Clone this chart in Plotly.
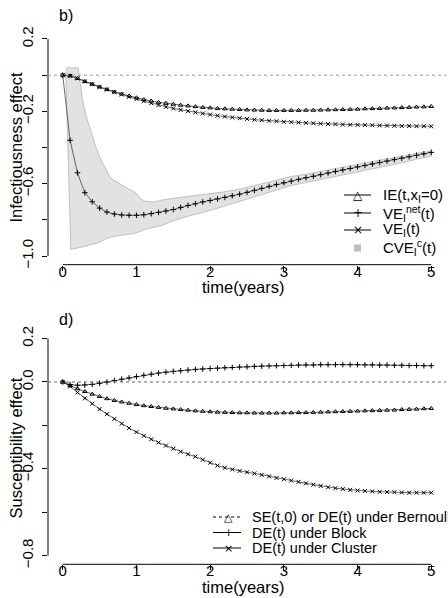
import plotly.graph_objects as go

# ---------------- data ----------------
t = [0.0, 0.1, 0.2, 0.3, 0.4, 0.5, 0.6, 0.7, 0.8, 0.9,
     1.0, 1.1, 1.2, 1.3, 1.4, 1.5, 1.6, 1.7, 1.8, 1.9,
     2.0, 2.1, 2.2, 2.3, 2.4, 2.5, 2.6, 2.7, 2.8, 2.9,
     3.0, 3.1, 3.2, 3.3, 3.4, 3.5, 3.6, 3.7, 3.8, 3.9,
     4.0, 4.1, 4.2, 4.3, 4.4, 4.5, 4.6, 4.7, 4.8, 4.9, 5.0]

ie = [0.0, -0.004, -0.018, -0.035, -0.05, -0.065, -0.079, -0.093, -0.104, -0.115,
      -0.125, -0.135, -0.143, -0.150, -0.156, -0.161, -0.166, -0.170, -0.174, -0.178,
      -0.181, -0.184, -0.186, -0.188, -0.190, -0.192, -0.193, -0.194, -0.195, -0.195,
      -0.195, -0.195, -0.195, -0.194, -0.194, -0.193, -0.192, -0.191, -0.190, -0.189,
      -0.188, -0.186, -0.185, -0.184, -0.182, -0.181, -0.179, -0.178, -0.176, -0.175, -0.173]

ve_net = [0.0, -0.36, -0.54, -0.65, -0.70, -0.735, -0.757, -0.768, -0.773, -0.775,
          -0.775, -0.772, -0.766, -0.759, -0.751, -0.743, -0.731, -0.720, -0.711, -0.701,
          -0.693, -0.684, -0.676, -0.667, -0.658, -0.648, -0.637, -0.626, -0.615, -0.604,
          -0.595, -0.586, -0.576, -0.567, -0.559, -0.550, -0.541, -0.532, -0.524, -0.516,
          -0.507, -0.499, -0.491, -0.483, -0.475, -0.467, -0.459, -0.451, -0.443, -0.435, -0.427]

ve_i = [0.0, -0.004, -0.018, -0.035, -0.05, -0.066, -0.080, -0.094, -0.107, -0.120,
        -0.132, -0.144, -0.155, -0.165, -0.175, -0.184, -0.192, -0.199, -0.206, -0.212,
        -0.218, -0.224, -0.229, -0.234, -0.238, -0.242, -0.246, -0.249, -0.252, -0.255,
        -0.258, -0.260, -0.262, -0.264, -0.266, -0.268, -0.270, -0.271, -0.273, -0.274,
        -0.275, -0.276, -0.277, -0.278, -0.279, -0.280, -0.281, -0.281, -0.282, -0.282, -0.283]

band_t = [0.04, 0.08, 0.11, 0.15, 0.21, 0.24, 0.27, 0.32, 0.4, 0.46, 0.52, 0.59, 0.65,
          0.73, 0.8, 0.87, 0.95, 1.0, 1.05, 1.1, 1.15, 1.25, 1.35, 1.5, 1.7, 2.0, 2.2,
          2.45, 2.7, 2.9, 3.1, 3.3, 3.5, 3.7, 4.0, 4.3, 4.6, 4.8, 5.0]
band_upper = [0.035, 0.045, 0.04, 0.04, 0.04, -0.05, -0.14, -0.23, -0.33, -0.41, -0.47,
              -0.525, -0.57, -0.59, -0.61, -0.625, -0.64, -0.655, -0.68, -0.695, -0.70,
              -0.70, -0.69, -0.68, -0.67, -0.655, -0.645, -0.626, -0.60, -0.58, -0.56,
              -0.548, -0.532, -0.518, -0.495, -0.47, -0.45, -0.432, -0.42]
band_lower = [0.02, -0.54, -0.965, -0.96, -0.955, -0.952, -0.95, -0.945, -0.935, -0.93,
              -0.92, -0.905, -0.895, -0.89, -0.885, -0.88, -0.877, -0.873, -0.865, -0.855,
              -0.85, -0.84, -0.83, -0.805, -0.78, -0.748, -0.725, -0.69, -0.66, -0.635,
              -0.61, -0.592, -0.575, -0.558, -0.535, -0.51, -0.485, -0.465, -0.448]

se_bern = [0.0, -0.017, -0.031, -0.044, -0.056, -0.067, -0.077, -0.085, -0.092, -0.098,
           -0.104, -0.109, -0.113, -0.117, -0.121, -0.124, -0.127, -0.130, -0.133, -0.135,
           -0.137, -0.139, -0.140, -0.141, -0.142, -0.142, -0.143, -0.143, -0.143, -0.143,
           -0.142, -0.142, -0.141, -0.141, -0.140, -0.139, -0.138, -0.137, -0.136, -0.135,
           -0.134, -0.133, -0.132, -0.131, -0.130, -0.129, -0.127, -0.126, -0.125, -0.123, -0.122]

de_block = [0.0, -0.012, -0.015, -0.014, -0.011, -0.006, 0.0, 0.007, 0.013, 0.019,
            0.025, 0.031, 0.036, 0.041, 0.045, 0.049, 0.052, 0.055, 0.058, 0.060,
            0.062, 0.064, 0.066, 0.067, 0.069, 0.070, 0.072, 0.073, 0.074, 0.075,
            0.076, 0.077, 0.078, 0.079, 0.079, 0.080, 0.080, 0.080, 0.080, 0.080,
            0.080, 0.079, 0.079, 0.078, 0.078, 0.077, 0.077, 0.076, 0.076, 0.075, 0.075]

de_cluster = [0.0, -0.02, -0.048, -0.075, -0.10, -0.125, -0.148, -0.17, -0.192, -0.212,
              -0.231, -0.248, -0.264, -0.279, -0.293, -0.307, -0.321, -0.333, -0.344, -0.358,
              -0.372, -0.385, -0.395, -0.403, -0.410, -0.416, -0.421, -0.428, -0.435, -0.442,
              -0.448, -0.454, -0.460, -0.467, -0.473, -0.479, -0.485, -0.489, -0.493, -0.497,
              -0.500, -0.502, -0.504, -0.506, -0.507, -0.508, -0.509, -0.510, -0.510, -0.510, -0.510]

x_ticks = [0, 1, 2, 3, 4, 5]
top_yticks = [0.2, 0.0, -0.2, -0.4, -0.6, -0.8, -1.0]
top_ylabels = ["0.2", "", "\u22120.2", "", "\u22120.6", "", "\u22121.0"]
bot_yticks = [0.2, 0.0, -0.2, -0.4, -0.6, -0.8]
bot_ylabels = ["0.2", "0.0", "", "\u22120.4", "", "\u22120.8"]

# ---------------- figure ----------------
FONT = "Liberation Sans, Arial, Helvetica, sans-serif"
W, H = 448, 598
ML, MR = 48, 2
fig = go.Figure()

fig.add_trace(go.Scatter(
    x=band_t + band_t[::-1], y=band_upper + band_lower[::-1],
    fill="toself", fillcolor="#e2e2e2", mode="lines",
    line=dict(color="#b4b4b4", width=0.8), xaxis="x", yaxis="y", showlegend=False))

def series(x, y, sym, xa, ya):
    fig.add_trace(go.Scatter(
        x=x, y=y, mode="lines+markers", xaxis=xa, yaxis=ya, showlegend=False,
        line=dict(color="#444444", width=0.8),
        marker=dict(symbol=sym, size=4, color="black", line=dict(color="black", width=1))))

series(t, ie, "triangle-up-open", "x", "y")
series(t, ve_i, "x-thin-open", "x", "y")
series(t, ve_net, "cross-thin-open", "x", "y")
series(t, se_bern, "triangle-up-open", "x2", "y2")
series(t, de_block, "cross-thin-open", "x2", "y2")
series(t, de_cluster, "x-thin-open", "x2", "y2")

top_dom = [1 - 264.7 / H, 1 - 30.3 / H]
bot_dom = [1 - 564.3 / H, 1 - 329.9 / H]

xcommon = dict(range=[-0.2, 5.2], tickvals=x_ticks, ticks="outside", ticklen=5,
               tickcolor="black", showline=False, zeroline=False, showgrid=False,
               automargin=False,
               tickfont=dict(family=FONT, size=15, color="black"), ticklabelstandoff=-12)
ycommon = dict(ticks="outside", ticklen=5, tickcolor="black", showline=False,
               zeroline=False, showgrid=False, tickangle=-90, automargin=False,
               ticklabelstandoff=3,
               tickfont=dict(family=FONT, size=15, color="black"))

fig.update_layout(
    width=W, height=H, margin=dict(l=ML, r=MR, t=0, b=0, autoexpand=False),
    plot_bgcolor="white", paper_bgcolor="white", showlegend=False,
    xaxis=dict(domain=[0, 1], anchor="y", **xcommon),
    yaxis=dict(domain=top_dom, anchor="x", range=[-1.048, 0.248],
               tickvals=top_yticks, ticktext=top_ylabels, **ycommon),
    xaxis2=dict(domain=[0, 1], anchor="y2", **xcommon),
    yaxis2=dict(domain=bot_dom, anchor="x2", range=[-0.84, 0.24],
                tickvals=bot_yticks, ticktext=bot_ylabels, **ycommon),
)

shapes = []
for xa, ya, lo, hi, dash, col in [("x", "y", -1.0, 0.2, "dot", "#9a9a9a"),
                                  ("x2", "y2", -0.8, 0.2, "dot", "#666666")]:
    # axis lines (R style: spanning tick range only)
    shapes.append(dict(type="line", xref=xa, yref=ya + " domain", x0=0, x1=5, y0=0, y1=0,
                       line=dict(color="black", width=1)))
    shapes.append(dict(type="line", xref=xa + " domain", yref=ya, x0=0, x1=0, y0=lo, y1=hi,
                       line=dict(color="black", width=1)))
    # reference line at 0
    shapes.append(dict(type="line", xref=xa + " domain", yref=ya, x0=0, x1=1, y0=0, y1=0,
                       line=dict(color=col, width=1, dash=dash)))

# legend / label positions: pixel -> paper (paper = plot area inside margins)
def px(x):
    return (x - ML) / (W - ML - MR)

def py(y):
    return 1 - y / H

ann = []
top_rows = [195, 213, 230, 248]
top_syms = ["\u25b3", "+", "\u00d7"]
top_txt = ["IE(t,x<sub>I</sub>=0)", "VE<sub>I</sub><sup>net</sup>(t)",
           "VE<sub>I</sub>(t)", "CVE<sub>I</sub><sup>c</sup>(t)"]
for i, yy in enumerate(top_rows):
    if i < 3:
        shapes.append(dict(type="line", xref="paper", yref="paper", x0=px(344), x1=px(371),
                           y0=py(yy), y1=py(yy), line=dict(color="black", width=1)))
        ann.append(dict(x=px(357.5), y=py(yy), xref="paper", yref="paper", text=top_syms[i],
                        showarrow=False, xanchor="center", yanchor="middle",
                        font=dict(family="DejaVu Sans", size=12, color="black")))
    else:
        shapes.append(dict(type="rect", xref="paper", yref="paper", x0=px(354), x1=px(361),
                           y0=py(yy + 3.5), y1=py(yy - 3.5), fillcolor="#bdbdbd",
                           line=dict(width=0)))
    ann.append(dict(x=px(381), y=py(yy), xref="paper", yref="paper", text=top_txt[i],
                    showarrow=False, xanchor="left", yanchor="middle",
                    font=dict(family=FONT, size=15, color="black")))

bot_rows = [517, 532.5, 548]
bot_syms = ["\u25b3", "+", "\u00d7"]
bot_dash = ["dot", "solid", "solid"]
bot_txt = ["SE(t,0) or DE(t) under Bernoulli", "DE(t) under Block", "DE(t) under Cluster"]
for i, yy in enumerate(bot_rows):
    shapes.append(dict(type="line", xref="paper", yref="paper", x0=px(213), x1=px(241),
                       y0=py(yy), y1=py(yy), line=dict(color="black", width=1, dash=bot_dash[i])))
    ann.append(dict(x=px(228), y=py(yy), xref="paper", yref="paper", text=bot_syms[i],
                    showarrow=False, xanchor="center", yanchor="middle",
                    font=dict(family="DejaVu Sans", size=11, color="black")))
    ann.append(dict(x=px(250), y=py(yy), xref="paper", yref="paper", text=bot_txt[i],
                    showarrow=False, xanchor="left", yanchor="middle",
                    font=dict(family=FONT, size=14.5, color="black")))

# panel titles and axis titles
ann += [
    dict(x=px(57), y=py(16), xref="paper", yref="paper", text="b)", showarrow=False,
         xanchor="left", yanchor="middle", font=dict(family=FONT, size=16, color="black")),
    dict(x=px(57), y=py(319), xref="paper", yref="paper", text="d)", showarrow=False,
         xanchor="left", yanchor="middle", font=dict(family=FONT, size=16, color="black")),
    dict(x=px(15.5), y=py(147), xref="paper", yref="paper", text="Infectiousness effect",
         textangle=-90, showarrow=False, xanchor="center", yanchor="middle",
         font=dict(family=FONT, size=16.5, color="black")),
    dict(x=px(15.5), y=py(448), xref="paper", yref="paper", text="Susceptibility effect",
         textangle=-90, showarrow=False, xanchor="center", yanchor="middle",
         font=dict(family=FONT, size=16.5, color="black")),
    dict(x=px(243), y=py(287), xref="paper", yref="paper", text="time(years)",
         showarrow=False, xanchor="center", yanchor="middle",
         font=dict(family=FONT, size=16.5, color="black")),
    dict(x=px(243), y=py(587), xref="paper", yref="paper", text="time(years)",
         showarrow=False, xanchor="center", yanchor="middle",
         font=dict(family=FONT, size=16.5, color="black")),
]

fig.update_layout(shapes=shapes, annotations=ann)
fig.write_html("out.html", config={"displayModeBar": False},
               post_script="document.body.style.margin='0px';"
                           "document.body.style.padding='0px';")
